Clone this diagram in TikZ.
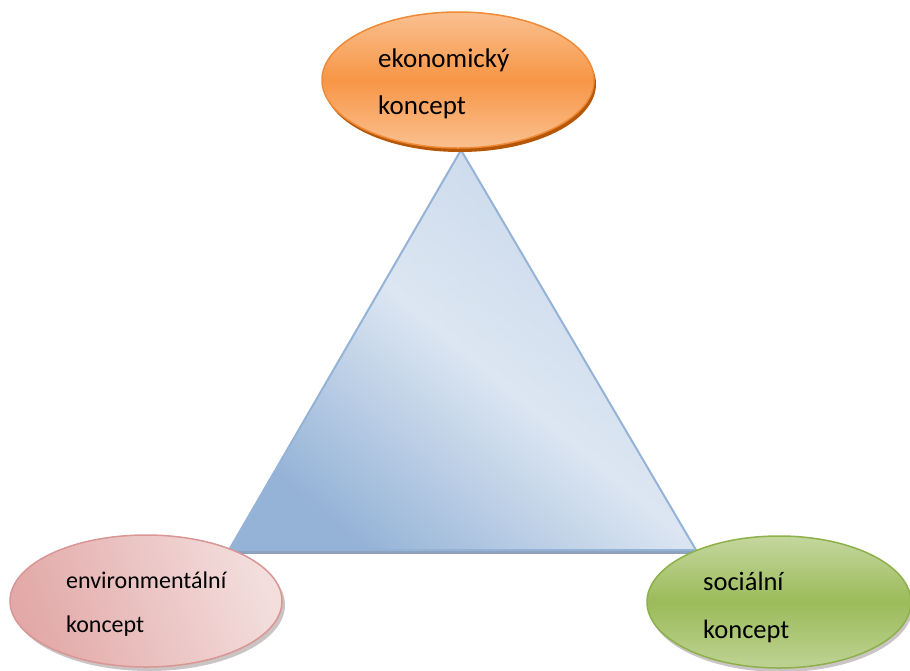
\documentclass[tikz,border=0pt]{standalone}
\usepackage{fontspec}
\setmainfont{Carlito}
\usetikzlibrary{shapes.geometric,shadings}
\definecolor{orMid}{HTML}{F79646}
\definecolor{orLight}{HTML}{FAC090}
\definecolor{orEdge}{HTML}{F08A36}
\definecolor{orRim}{HTML}{B65708}
\definecolor{pkDark}{HTML}{E2A9A8}
\definecolor{pkLight}{HTML}{F3DEDD}
\definecolor{pkEdge}{HTML}{D99694}
\definecolor{grLight}{HTML}{C4D79E}
\definecolor{grMid}{HTML}{9BBB59}
\definecolor{grEdge}{HTML}{8DB04A}
\definecolor{blDark}{HTML}{95B3D7}
\definecolor{blLight}{HTML}{DCE6F2}
\definecolor{blTop}{HTML}{C8D7EA}
\definecolor{blShadow}{HTML}{8EA2BE}
\definecolor{shadowGray}{HTML}{A89C9C}
\tikzset{
  blob/.style={ellipse, inner sep=0pt, line width=1.5pt},
  blobshadow/.style={ellipse, inner sep=0pt, draw=none},
  label/.style={anchor=base west, inner sep=0pt, text=black},
}
\begin{document}
\begin{tikzpicture}[x=1pt,y=-1pt]
\useasboundingbox (0,0) rectangle (910,670);
% triangle
\coordinate (apex) at (461,150);
\coordinate (bl) at (229,550);
\coordinate (br) at (696,550);
\coordinate (bls) at (232,552.5);
\coordinate (brs) at (697,552.5);
\draw[line width=3pt, blShadow] (bls) -- (brs);
\shade[bottom color=blDark, top color=blTop, middle color=blLight, shading angle=-40]
  (apex) -- (br) -- (bl) -- cycle;
\draw[line width=2pt, blDark, line join=round] (apex) -- (br) -- (bl) -- cycle;
% economic
\node[blobshadow, fill=orRim, minimum width=272pt, minimum height=136pt] (ekos) at (460,84) {};
\node[blob, draw=orEdge, top color=orLight, bottom color=orLight, middle color=orMid,
  minimum width=272pt, minimum height=136pt] (eko) at (458,80) {};
\node[label, font=\fontsize{27}{30}\selectfont] (eko1) at (378,67) {ekonomický};
\node[label, font=\fontsize{27}{30}\selectfont] (eko2) at (378,114) {koncept};
% environmental
\node[blobshadow, fill=shadowGray, opacity=0.6, minimum width=272pt, minimum height=132pt] (envs) at (149,605) {};
\node[blob, draw=pkEdge, left color=pkLight, right color=pkDark, shading angle=-70,
  minimum width=272pt, minimum height=132pt] (env) at (146,601) {};
\node[label, font=\fontsize{24}{28}\selectfont] (env1) at (66,588) {environmentální};
\node[label, font=\fontsize{24}{28}\selectfont] (env2) at (66,632) {koncept};
% social
\node[blobshadow, fill=shadowGray, opacity=0.6, minimum width=264pt, minimum height=132pt] (socs) at (781,606) {};
\node[blob, draw=grEdge, top color=grLight, bottom color=grLight!85!grMid, middle color=grMid,
  minimum width=264pt, minimum height=132pt] (soc) at (779,602) {};
\node[label, font=\fontsize{26.5}{30}\selectfont] (soc1) at (703,590) {sociální};
\node[label, font=\fontsize{26.5}{30}\selectfont] (soc2) at (703,638) {koncept};
\end{tikzpicture}
\end{document}
